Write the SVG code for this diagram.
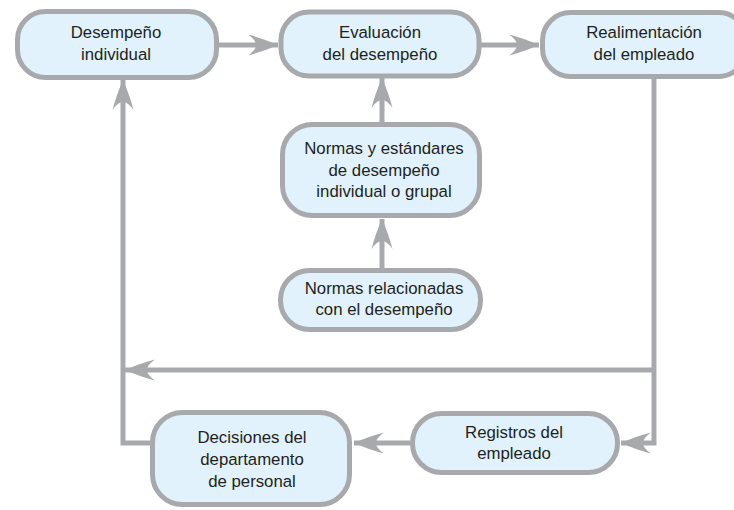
<svg xmlns="http://www.w3.org/2000/svg" width="734" height="510" viewBox="0 0 734 510">
<style>
.box{fill:#e1f2fc;stroke:#a7a9ac;stroke-width:5}
.t{font-family:"Liberation Sans",Arial,sans-serif;font-size:16.8px;fill:#231f20;text-anchor:middle}
.c{fill:none;stroke:#a7a9ac;stroke-width:5}
</style>
<defs>
<marker id="ah" markerUnits="userSpaceOnUse" markerWidth="30" markerHeight="22" refX="30" refY="11" orient="auto" overflow="visible">
<path d="M30,11 Q14,4 0,0.5 Q8,6 8,11 Q8,16 0,21.5 Q14,18 30,11 Z" fill="#a7a9ac"/>
</marker>
</defs>
<rect width="734" height="510" fill="#ffffff"/>
<g id="connectors">
<path class="c" d="M219,45 L278,45" marker-end="url(#ah)"/>
<path class="c" d="M481,45 L539,45" marker-end="url(#ah)"/>
<path class="c" d="M382,122 L382,78" marker-end="url(#ah)"/>
<path class="c" d="M382,268 L382,219" marker-end="url(#ah)"/>
<path class="c" d="M654,77 L654,443 L621,443" marker-end="url(#ah)"/>
<path class="c" d="M654,370 L125,370" marker-end="url(#ah)"/>
<path class="c" d="M152,443 L123,443 L123,80" marker-end="url(#ah)"/>
<path class="c" d="M410,443 L354,443" marker-end="url(#ah)"/>
</g>
<g id="desempeno">
<rect class="box" x="17.5" y="11.5" width="199" height="66" rx="28"/>
<text class="t" x="116" y="38">Desempeño</text>
<text class="t" x="116" y="60">individual</text>
</g>
<g id="evaluacion">
<rect class="box" x="281" y="12" width="198" height="64" rx="28"/>
<text class="t" x="380" y="38">Evaluación</text>
<text class="t" x="380" y="60">del desempeño</text>
</g>
<g id="realimentacion">
<rect class="box" x="542.5" y="12.5" width="204" height="64" rx="28"/>
<text class="t" x="644" y="38">Realimentación</text>
<text class="t" x="644" y="60">del empleado</text>
</g>
<g id="normas-estandares">
<rect class="box" x="282.5" y="124.5" width="197" height="91" rx="30"/>
<text class="t" x="384" y="154">Normas y estándares</text>
<text class="t" x="384" y="176">de desempeño</text>
<text class="t" x="384" y="197">individual o grupal</text>
</g>
<g id="normas-relacionadas">
<rect class="box" x="280.5" y="270.5" width="200" height="59" rx="29"/>
<text class="t" x="384" y="294">Normas relacionadas</text>
<text class="t" x="384" y="315">con el desempeño</text>
</g>
<g id="decisiones">
<rect class="box" x="152.5" y="412.5" width="197" height="92" rx="30"/>
<text class="t" x="252" y="443">Decisiones del</text>
<text class="t" x="252" y="465">departamento</text>
<text class="t" x="252" y="487">de personal</text>
</g>
<g id="registros">
<rect class="box" x="412.5" y="413.5" width="205" height="59" rx="29"/>
<text class="t" x="514" y="438">Registros del</text>
<text class="t" x="514" y="459">empleado</text>
</g>
</svg>
